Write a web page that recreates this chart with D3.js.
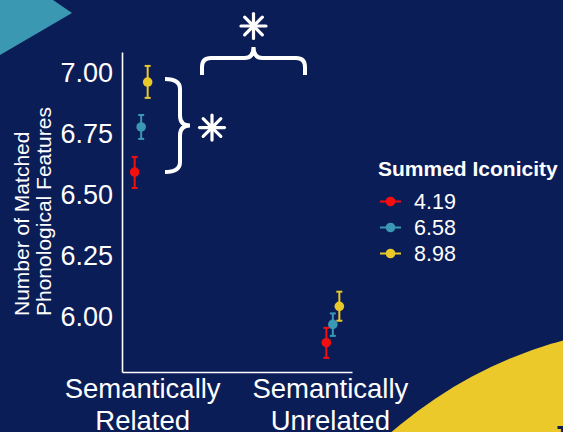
<!DOCTYPE html>
<meta charset="utf-8">
<head>
	<title>Matched phonological features</title>
	<script src="https://d3js.org/d3.v7.min.js"></script>
	<style>
		body { margin: 0; overflow: hidden; background: #0b1d56; }
		text { font-family: "Liberation Sans", Arial, sans-serif; }
	</style>
</head>
<body>
<script>
	// data
	const categories = ['Semantically Related', 'Semantically Unrelated'];
	const categoryLines = [['Semantically', 'Related'], ['Semantically', 'Unrelated']];
	const levels = ['4.19', '6.58', '8.98'];
	const levelColors = ['#f20f0f', '#3a98b4', '#e9c82b'];
	// mean / lower / upper per level, in category order
	const means = [[6.594, 5.895], [6.779, 5.970], [6.963, 6.044]];
	const lower = [[6.529, 5.833], [6.730, 5.923], [6.898, 5.985]];
	const upper = [[6.656, 5.956], [6.828, 6.015], [7.029, 6.104]];
	const yTicks = [6.00, 6.25, 6.50, 6.75, 7.00];

	const width = 563;
	const height = 432;
	const navy = '#0b1d56';

	const svg = d3.select('body')
		.append('svg')
		.attr('width', width)
		.attr('height', height);

	svg.append('rect')
		.attr('width', width)
		.attr('height', height)
		.attr('fill', navy);

	// decorations
	svg.append('polygon')
		.attr('points', '0,0 53,0 72,13 0,55')
		.attr('fill', '#3b98b3');

	svg.append('circle')
		.attr('cx', 678)
		.attr('cy', 762)
		.attr('r', 437)
		.attr('fill', '#ebc92b');

	svg.append('text')
		.attr('x', 552)
		.attr('y', 444)
		.attr('font-size', 26)
		.attr('font-weight', 'bold')
		.attr('fill', navy)
		.text('J');

	const y = d3.scaleLinear()
		.domain([5.775, 7.086])
		.range([372, 52]);

	const x = d3.scalePoint()
		.domain(categories)
		.range([122, 352])
		.padding(0.1);

	const dodge = d3.scalePoint()
		.domain(levels)
		.range([-6.5, 6.5]);

	// y axis
	const yAxis = svg.append('g')
		.attr('transform', 'translate(122,0)')
		.call(d3.axisLeft(y).tickValues(yTicks).tickFormat(d3.format('.2f')).tickSize(0).tickPadding(9));
	yAxis.select('.domain').attr('stroke', 'white').attr('stroke-width', 1.6);
	yAxis.selectAll('text')
		.attr('fill', 'white')
		.attr('font-size', 27)
		.style('font-family', '"Liberation Sans", Arial, sans-serif');

	// x axis
	const xAxis = svg.append('g')
		.attr('transform', 'translate(0,372)')
		.call(d3.axisBottom(x).tickSize(0).tickFormat(''));
	xAxis.select('.domain').attr('stroke', 'white').attr('stroke-width', 1.6);
	xAxis.selectAll('.tick text').remove();
	xAxis.selectAll('.tick').each(function(d, i) {
		const t = d3.select(this).append('text')
			.attr('fill', 'white')
			.attr('font-size', 27.5)
			.attr('text-anchor', 'middle')
			.attr('y', 26);
		categoryLines[i].forEach((line, j) => {
			t.append('tspan')
				.attr('x', i === 0 ? 1 : -3)
				.attr('dy', j === 0 ? 0 : 32)
				.text(line);
		});
	});

	// y axis title
	const yTitle = svg.append('text')
		.attr('transform', 'translate(29,316) rotate(-90)')
		.attr('fill', 'white')
		.attr('font-size', 21)
		.attr('text-anchor', 'start');
	yTitle.append('tspan').attr('x', 0).attr('y', 0).text('Number of Matched');
	yTitle.append('tspan').attr('x', 0).attr('y', 22).text('Phonological Features');

	// error bars + points
	const points = [];
	levels.forEach((lev, li) => {
		categories.forEach((cat, ci) => {
			points.push({cat: cat, lev: lev, color: levelColors[li],
				mean: means[li][ci], lo: lower[li][ci], hi: upper[li][ci]});
		});
	});

	const g = svg.append('g').attr('class', 'points');
	const px = d => x(d.cat) + dodge(d.lev);

	g.selectAll('line.err')
		.data(points)
		.enter().append('line')
			.attr('class', 'err')
			.attr('x1', px).attr('x2', px)
			.attr('y1', d => y(d.lo)).attr('y2', d => y(d.hi))
			.attr('stroke', d => d.color)
			.attr('stroke-width', 2);

	['lo', 'hi'].forEach(k => {
		g.selectAll('line.cap-' + k)
			.data(points)
			.enter().append('line')
				.attr('class', 'cap-' + k)
				.attr('x1', d => px(d) - 3).attr('x2', d => px(d) + 3)
				.attr('y1', d => y(d[k])).attr('y2', d => y(d[k]))
				.attr('stroke', d => d.color)
				.attr('stroke-width', 2);
	});

	g.selectAll('circle')
		.data(points)
		.enter().append('circle')
			.attr('cx', px)
			.attr('cy', d => y(d.mean))
			.attr('r', 4.8)
			.attr('fill', d => d.color);

	// legend
	const legend = svg.append('g').attr('transform', 'translate(378,0)');
	legend.append('text')
		.attr('x', 0)
		.attr('y', 176)
		.attr('fill', 'white')
		.attr('font-size', 21)
		.attr('font-weight', 'bold')
		.text('Summed Iconicity');

	const items = legend.selectAll('g.item')
		.data(levels)
		.enter().append('g')
			.attr('class', 'item')
			.attr('transform', (d, i) => `translate(0,${201.5 + i * 26})`);
	items.append('line')
		.attr('x1', 2).attr('x2', 23)
		.attr('stroke', (d, i) => levelColors[i])
		.attr('stroke-width', 2);
	items.append('circle')
		.attr('cx', 12.5)
		.attr('r', 4.8)
		.attr('fill', (d, i) => levelColors[i]);
	items.append('text')
		.attr('x', 36)
		.attr('dy', '0.36em')
		.attr('fill', 'white')
		.attr('font-size', 21.5)
		.text(d => d);

	// significance braces
	function braceRight(x0, x1, x2, y0, y1, r) {
		const m = (y0 + y1) / 2;
		return `M${x0},${y0} Q${x1},${y0} ${x1},${y0 + r} L${x1},${m - r} Q${x1},${m} ${x2},${m}` +
			` Q${x1},${m} ${x1},${m + r} L${x1},${y1 - r} Q${x1},${y1} ${x0},${y1}`;
	}
	function braceUp(x0, x1, yEnd, yh, yTip, r) {
		const m = (x0 + x1) / 2;
		return `M${x0},${yEnd} L${x0},${yh + r} Q${x0},${yh} ${x0 + r},${yh} L${m - r},${yh} Q${m},${yh} ${m},${yTip}` +
			` Q${m},${yh} ${m + r},${yh} L${x1 - r},${yh} Q${x1},${yh} ${x1},${yh + r} L${x1},${yEnd}`;
	}
	function asterisk(cx, cy, r) {
		const a = svg.append('g').attr('transform', `translate(${cx},${cy})`);
		d3.range(8).forEach(i => {
			const ang = i * Math.PI / 4;
			a.append('line')
				.attr('x1', 0).attr('y1', 0)
				.attr('x2', r * Math.sin(ang)).attr('y2', -r * Math.cos(ang))
				.attr('stroke', 'white')
				.attr('stroke-width', 3.2)
				.attr('stroke-linecap', 'round');
		});
	}

	const yTop = y(means[2][0]) - 3;
	const yBot = y(means[0][0]);
	svg.append('path')
		.attr('d', braceRight(165, 180, 190, yTop, yBot, 10))
		.attr('fill', 'none')
		.attr('stroke', 'white')
		.attr('stroke-width', 4);
	asterisk(212, (yTop + yBot) / 2 + 2, 12.5);

	svg.append('path')
		.attr('d', braceUp(202, 305, 75, 58, 47, 9))
		.attr('fill', 'none')
		.attr('stroke', 'white')
		.attr('stroke-width', 4);
	asterisk(253.5, 26, 12.5);
</script>
</body>
</html>
